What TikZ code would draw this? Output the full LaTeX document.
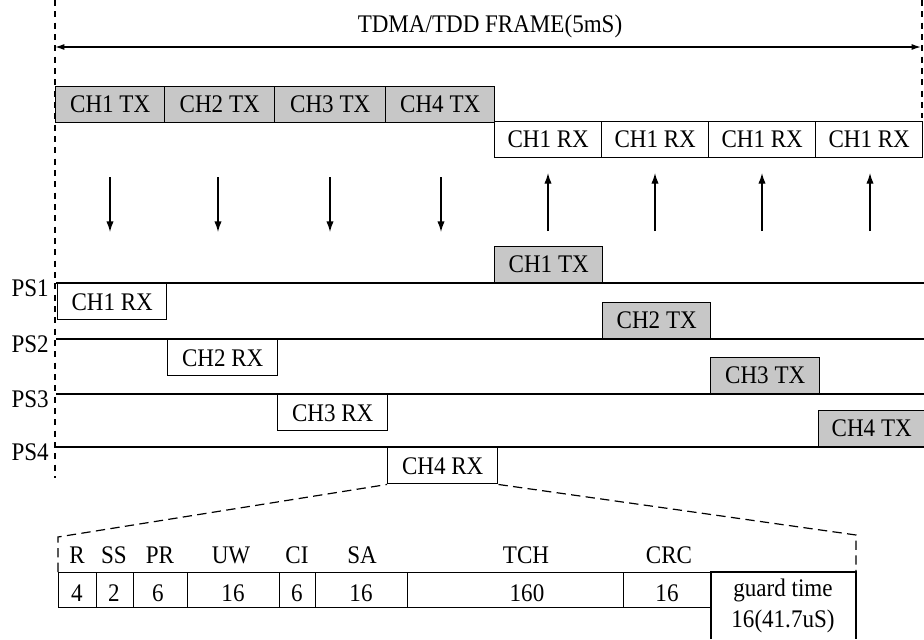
\documentclass[tikz,border=0pt]{standalone}
\usepackage{fontspec}
\setmainfont{Liberation Serif}[FakeStretch=0.91]
\usetikzlibrary{arrows.meta}
\begin{document}
\begin{tikzpicture}[x=0.75pt,y=-0.75pt,
  every node/.style={font=\fontsize{19}{22}\selectfont, inner sep=0pt},
  slot/.style={draw, line width=1.1pt, minimum width=#1*0.75pt, minimum height=36*0.75pt},
  txslot/.style={slot=#1, fill=black!22},
  field/.style={draw, line width=1.1pt, minimum width=#1*0.75pt, minimum height=35*0.75pt, anchor=north west},
  txt/.style={anchor=base},
  psline/.style={line width=1.1pt},
  guide/.style={line width=0.9pt, dash pattern=on 4.5pt off 4pt},
  zoomline/.style={line width=0.9pt, dash pattern=on 7pt off 4pt},
  sig/.style={line width=1pt, -{Latex[length=8pt,width=5.5pt]}},
  span/.style={line width=1pt, {Latex[length=7pt,width=4.5pt]}-{Latex[length=7pt,width=4.5pt]}},
]
\useasboundingbox (0,0) rectangle (924,639);

% frame guides
\coordinate (gl1) at (55,0);
\coordinate (gl2) at (55,478);
\coordinate (gr1) at (922,0);
\coordinate (gr2) at (922,118);
\draw[guide] (gl1) -- (gl2);
\draw[guide] (gr1) -- (gr2);

% frame span
\node[txt] (title) at (490,32) {TDMA/TDD FRAME(5mS)};
\coordinate (sa) at (55,47);
\coordinate (sb) at (921,47);
\draw[span] (sa) -- (sb);

% base station row
\node[txslot=109, anchor=north west] (t1) at (55,86) {CH1 TX};
\node[txslot=110, anchor=north west] (t2) at (164,86) {CH2 TX};
\node[txslot=111, anchor=north west] (t3) at (274,86) {CH3 TX};
\node[txslot=109, anchor=north west] (t4) at (385,86) {CH4 TX};
\node[slot=107, anchor=north west] (r1) at (494,121) {CH1 RX};
\node[slot=107, anchor=north west] (r2) at (601,121) {CH1 RX};
\node[slot=107, anchor=north west] (r3) at (708,121) {CH1 RX};
\node[slot=107, anchor=north west] (r4) at (815,121) {CH1 RX};

% arrows
\foreach \x [count=\i] in {110,218,330,441} {
  \coordinate (ds\i) at (\x,177);
  \coordinate (de\i) at (\x,232);
  \draw[sig] (ds\i) -- (de\i);
}
\foreach \x [count=\i] in {548,655,762,870} {
  \coordinate (us\i) at (\x,231);
  \coordinate (ue\i) at (\x,173);
  \draw[sig] (us\i) -- (ue\i);
}

% PS lines
\foreach \y [count=\i] in {283,339,394,447} {
  \coordinate (pl\i) at (56,\y);
  \coordinate (pr\i) at (924,\y);
  \draw[psline] (pl\i) -- (pr\i);
  \node[anchor=base east] (ps\i) at (49,\y+13) {PS\i};
}

% PS slots
\node[slot=109, anchor=north west] (p1r) at (57,283) {CH1 RX};
\node[slot=110, anchor=north west] (p2r) at (167,339) {CH2 RX};
\node[slot=110, anchor=north west] (p3r) at (277,394) {CH3 RX};
\node[slot=110, anchor=north west] (p4r) at (387,447) {CH4 RX};
\node[txslot=108, anchor=south west] (p1t) at (494,283) {CH1 TX};
\node[txslot=108, anchor=south west] (p2t) at (602,339) {CH2 TX};
\node[txslot=109, anchor=south west] (p3t) at (710,394) {CH3 TX};
\node[txslot=106, anchor=south west] (p4t) at (818,447) {CH4 TX};

% burst fields
\node[field=38] (f1) at (58,572) {};
\node[field=37] (f2) at (96,572) {};
\node[field=54] (f3) at (133,572) {};
\node[field=92] (f4) at (187,572) {};
\node[field=36] (f5) at (279,572) {};
\node[field=92] (f6) at (315,572) {};
\node[field=216] (f7) at (407,572) {};
\node[field=88] (f8) at (623,572) {};
\coordinate (gbl) at (711,639);
\coordinate (gtl) at (711,572);
\coordinate (gtr) at (856,572);
\coordinate (gbr) at (856,639);
\draw[line width=1.1pt] (gbl) -- (gtl) -- (gtr) -- (gbr);

% zoom lines
\coordinate (zl) at (58,537);
\coordinate (zr) at (856,535);
\draw[zoomline] (f1.north west) -- (zl) -- (p4r.south west);
\draw[zoomline] (p4r.south east) -- (zr) -- (gtr);

% field labels
\node[txt] (lR) at (77,563) {R};
\node[txt] (lSS) at (114,563) {SS};
\node[txt] (lPR) at (160,563) {PR};
\node[txt] (lUW) at (231,563) {UW};
\node[txt] (lCI) at (297,563) {CI};
\node[txt] (lSA) at (362,563) {SA};
\node[txt] (lTCH) at (526,563) {TCH};
\node[txt] (lCRC) at (669,563) {CRC};

\node[txt] (n1) at (77,601) {4};
\node[txt] (n2) at (114,601) {2};
\node[txt] (n3) at (158,601) {6};
\node[txt] (n4) at (233,601) {16};
\node[txt] (n5) at (297,601) {6};
\node[txt] (n6) at (361,601) {16};
\node[txt] (n7) at (527,601) {160};
\node[txt] (n8) at (667,601) {16};
\node[txt] (g1) at (783,596) {guard time};
\node[txt] (g2) at (783,627) {16(41.7uS)};
\end{tikzpicture}
\end{document}
